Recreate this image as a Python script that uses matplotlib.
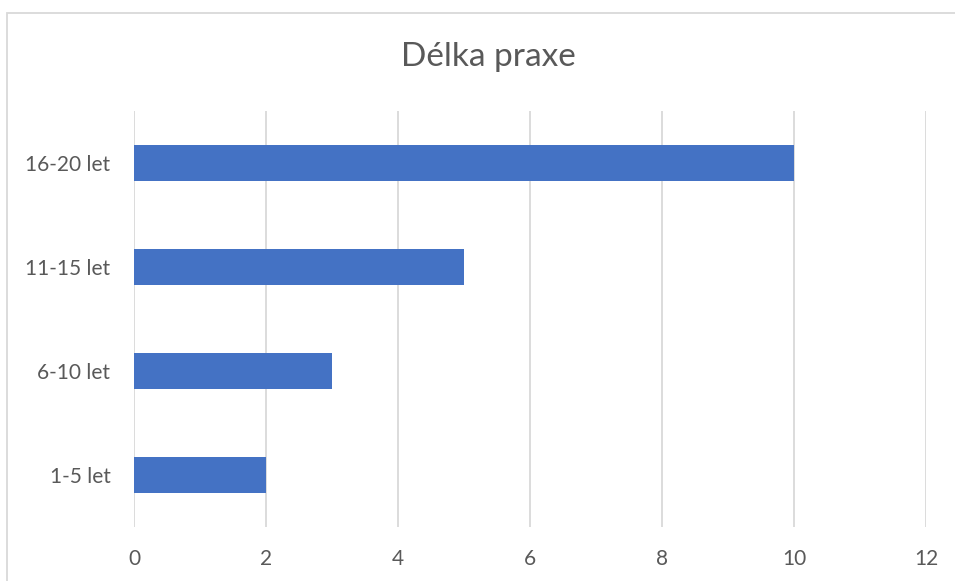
import matplotlib
matplotlib.use('Agg')
import matplotlib.pyplot as plt
from matplotlib.patches import Rectangle

# data
kategorie = ['1-5 let', '6-10 let', '11-15 let', '16-20 let']
pocty = [2, 3, 5, 10]
xticks = [0, 2, 4, 6, 8, 10, 12]

plt.rcParams['font.family'] = ['Lato', 'DejaVu Sans']
seda = '#595959'

fig = plt.figure(figsize=(9.55, 5.81), dpi=100)
ax = fig.add_axes([134/955, 1-527/581, (926-134)/955, 416/581])

ax.barh(range(len(kategorie)), pocty, height=0.35, color='#4472C4', zorder=3)
ax.set_ylim(-0.5, len(kategorie)-0.5)
ax.set_xlim(0, 12)
ax.set_xticks(xticks)
ax.set_yticks(range(len(kategorie)))
ax.set_yticklabels(kategorie)
ax.grid(axis='x', color='#D9D9D9', linewidth=1.3, zorder=0)
for s in ax.spines.values():
    s.set_visible(False)
ax.tick_params(length=0, labelsize=15, colors=seda)
ax.tick_params(axis='x', pad=16)
ax.tick_params(axis='y', pad=17)

fig.text(488/955, 1-57/581, 'Délka praxe', ha='center', va='center', fontsize=24, color=seda)

# ramecek grafu
fig.patches.append(Rectangle((7/955, -0.1), 1.2, (581-13)/581+0.1, transform=fig.transFigure,
                             fill=False, edgecolor='#D9D9D9', linewidth=1.3))

fig.savefig('out.png', dpi=100)
